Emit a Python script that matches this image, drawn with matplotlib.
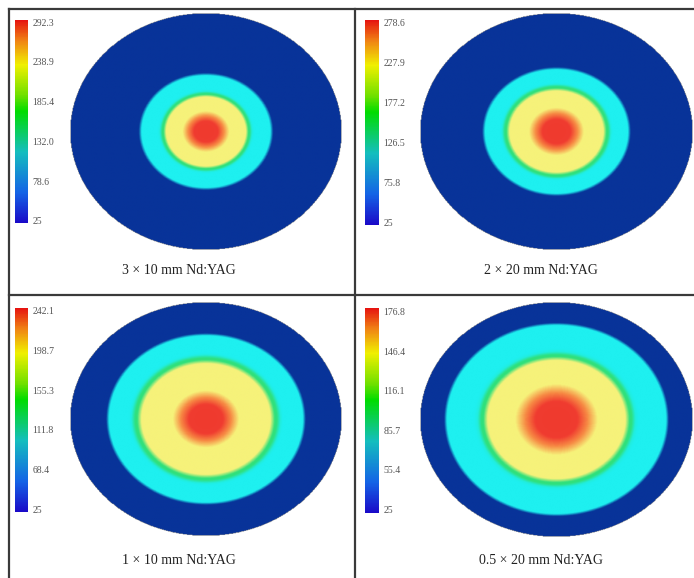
import numpy as np
import matplotlib
matplotlib.use('Agg')
from matplotlib import pyplot as plt
from matplotlib.colors import LinearSegmentedColormap, Normalize
from matplotlib.cm import ScalarMappable

# panel captions and colorbar labels (top -> bottom)
captions = ['3 × 10 mm Nd:YAG', '2 × 20 mm Nd:YAG',
            '1 × 10 mm Nd:YAG', '0.5 × 20 mm Nd:YAG']
tmax = [292.3, 278.6, 242.1, 176.8]
tmin = [25, 25, 25, 25]
cbar_labels = [['292.3', '238.9', '185.4', '132.0', '78.6', '25'],
               ['278.6', '227.9', '177.2', '126.5', '75.8', '25'],
               ['242.1', '198.7', '155.3', '111.8', '68.4', '25'],
               ['176.8', '146.4', '116.1', '85.7', '55.4', '25']]

# ring radii (fraction of disc radius)
red_r = [0.12, 0.14, 0.17, 0.21]
yellow_r = [0.29, 0.34, 0.47, 0.50]
cyan_in_r = [0.34, 0.40, 0.55, 0.58]
cyan_out_r = [0.47, 0.52, 0.71, 0.80]

W, H = 694, 578
fig = plt.figure(figsize=(W / 100, H / 100), dpi=100)


def box(x0, y0, x1, y1):
    return [x0 / W, 1 - y1 / H, (x1 - x0) / W, (y1 - y0) / H]


bg = fig.add_axes([0, 0, 1, 1])
bg.set_xlim(0, W)
bg.set_ylim(H, 0)
bg.axis('off')

# frame lines
lc = '#3a3a3a'
bg.plot([9.5, 9.5], [9, H], color=lc, lw=1.6)
bg.plot([9, W], [9, 9], color=lc, lw=1.6)
bg.plot([355, 355], [9, H], color=lc, lw=1.6)
bg.plot([9, W], [295, 295], color=lc, lw=1.6)

disc_cmap = LinearSegmentedColormap.from_list('disc', [
    (0.0, '#083399'), (0.30, '#083399'), (0.36, '#1ef0f0'), (0.45, '#1ef0f0'),
    (0.52, '#30e07c'), (0.55, '#30e07c'), (0.62, '#f6f27a'), (0.80, '#f6f27a'),
    (0.86, '#f78a44'), (0.92, '#f03c30'), (1.0, '#ef3a2e')])

bar_cmap = LinearSegmentedColormap.from_list('bar', [
    (0.0, '#1a0ac8'), (0.15, '#1464e6'), (0.35, '#14bebe'), (0.55, '#00dc00'),
    (0.63, '#70e000'), (0.78, '#f0f000'), (0.9, '#f08214'), (1.0, '#e61410')])

disc_boxes = [(70, 13, 342, 250), (420, 13, 693, 250),
              (70, 302, 342, 536), (420, 302, 693, 537)]
cbar_boxes = [(15, 20, 28, 223), (365, 20, 379, 225),
              (15, 308, 28, 512), (365, 308, 379, 513)]
cap_pos = [(179, 270), (541, 270), (179, 561), (541, 561)]

n = 400
g = np.linspace(-1, 1, n)
xx, yy = np.meshgrid(g, g)
rr = np.sqrt(xx ** 2 + yy ** 2)

for i in range(4):
    ax = fig.add_axes(box(*disc_boxes[i]))
    r_nodes = [0, red_r[i] * 0.5, red_r[i] * 1.55, yellow_r[i], cyan_in_r[i],
               cyan_out_r[i], cyan_out_r[i] + 0.03, 1.0]
    v_nodes = [1.0, 0.96, 0.78, 0.63, 0.46, 0.37, 0.29, 0.2]
    field = np.interp(rr, r_nodes, v_nodes)
    field = np.where(rr <= 1.0, field, np.nan)
    ax.imshow(field, cmap=disc_cmap, vmin=0, vmax=1, extent=(-1, 1, -1, 1),
              aspect='auto', interpolation='bilinear')
    ax.axis('off')

    cax = fig.add_axes(box(*cbar_boxes[i]))
    ticks = np.linspace(tmax[i], tmin[i], 6)
    cb = fig.colorbar(ScalarMappable(Normalize(tmin[i] - 3, tmax[i] + 3), bar_cmap),
                      cax=cax, ticks=ticks)
    cb.outline.set_visible(False)
    cb.ax.set_yticklabels(cbar_labels[i])
    cb.ax.tick_params(length=0, pad=3, labelsize=7, labelcolor='#555555')
    for t in cb.ax.get_yticklabels():
        t.set_family('Liberation Serif')

    bg.text(cap_pos[i][0], cap_pos[i][1], captions[i], ha='center', va='center',
            fontsize=10, family='Liberation Serif', color='#222222')

fig.savefig('out.png', dpi=100)
plt.close()
